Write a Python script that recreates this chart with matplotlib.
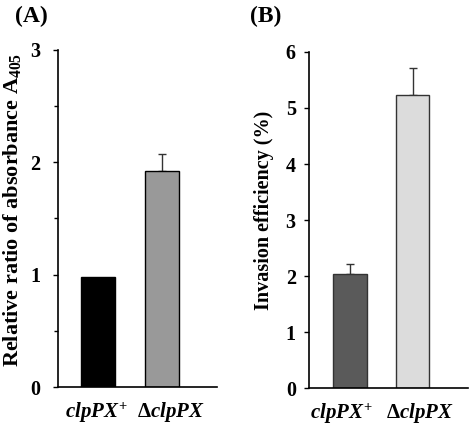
import matplotlib
matplotlib.use("Agg")
import matplotlib.pyplot as plt
import matplotlib.transforms as mtransforms
from matplotlib.ticker import MultipleLocator

plt.rcParams["font.family"] = "Liberation Serif"
plt.rcParams["font.weight"] = "bold"
plt.rcParams["mathtext.fontset"] = "custom"
plt.rcParams["mathtext.rm"] = "Liberation Serif:bold"
plt.rcParams["mathtext.it"] = "Liberation Serif:italic:bold"
plt.rcParams["mathtext.bf"] = "Liberation Serif:bold"

# === data ===
strains = [r"$\mathit{clpPX}^{+}$", r"$\Delta\mathit{clpPX}$"]

absorbance = [0.98, 1.92]
absorbance_err = [0.0, 0.15]
absorbance_colors = ["#000000", "#999999"]

invasion = [2.03, 5.23]
invasion_err = [0.19, 0.48]
invasion_colors = ["#5a5a5a", "#dcdcdc"]

fig = plt.figure(figsize=(4.71, 4.26), dpi=100)
axA = fig.add_axes([0.123, 0.0915, 0.338, 0.7915])
axB = fig.add_axes([0.656, 0.089, 0.338, 0.789])


def style(ax, ymax, pad):
    for s in ["top", "right"]:
        ax.spines[s].set_visible(False)
    for s in ["left", "bottom"]:
        ax.spines[s].set_linewidth(1.2)
    ax.set_ylim(0, ymax)
    ax.tick_params(axis="y", direction="out", length=3.5, width=1, pad=pad, labelsize=14.5)
    ax.tick_params(axis="x", length=0, pad=9.5, labelsize=15)
    for lab in ax.get_yticklabels():
        lab.set_fontweight("bold")


def shift_labels(ax, shifts_px):
    # nudge the strain labels sideways like in the original figure
    for lab, dx in zip(ax.get_xticklabels(), shifts_px):
        off = mtransforms.ScaledTranslation(dx / 100, 0, fig.dpi_scale_trans)
        lab.set_transform(lab.get_transform() + off)


x = [0, 1]

# === panel A ===
axA.bar(x, absorbance, width=0.535, color=absorbance_colors, edgecolor="black", linewidth=1, zorder=2)
axA.errorbar(x[1], absorbance[1], yerr=[[0], [absorbance_err[1]]], fmt="none",
             ecolor="#333333", elinewidth=1, capsize=3, capthick=1, zorder=1)
axA.set_xlim(-0.63, 1.87)
axA.set_xticks(x)
axA.set_xticklabels(strains)
axA.yaxis.set_major_locator(MultipleLocator(1))
axA.yaxis.set_minor_locator(MultipleLocator(0.5))
style(axA, 3, 9)
axA.tick_params(axis="y", which="minor", direction="out", length=3, width=1)
axA.set_ylabel(r"Relative ratio of absorbance A$_{\mathrm{405}}$", fontsize=16, fontweight="bold")
axA.yaxis.set_label_coords(-0.22, 0.525)
shift_labels(axA, [-2, 9])

# === panel B ===
axB.bar(x, invasion, width=0.54, color=invasion_colors, edgecolor="#333333", linewidth=1, zorder=2)
axB.errorbar(x, invasion, yerr=[[0, 0], invasion_err], fmt="none",
             ecolor="#333333", elinewidth=1, capsize=3, capthick=1, zorder=1)
axB.set_xlim(-0.656, 1.89)
axB.set_xticks(x)
axB.set_xticklabels(strains)
axB.yaxis.set_major_locator(MultipleLocator(1))
style(axB, 6, 6)
axB.set_ylabel("Invasion efficiency (%)", fontsize=14.5, fontweight="bold")
axB.yaxis.set_label_coords(-0.22, 0.53)
shift_labels(axB, [-8, 7])

fig.text(0.031, 0.962, "(A)", fontsize=17, fontweight="bold", va="center")
fig.text(0.530, 0.962, "(B)", fontsize=17, fontweight="bold", va="center")

fig.savefig("out.png", dpi=100, facecolor="white")
